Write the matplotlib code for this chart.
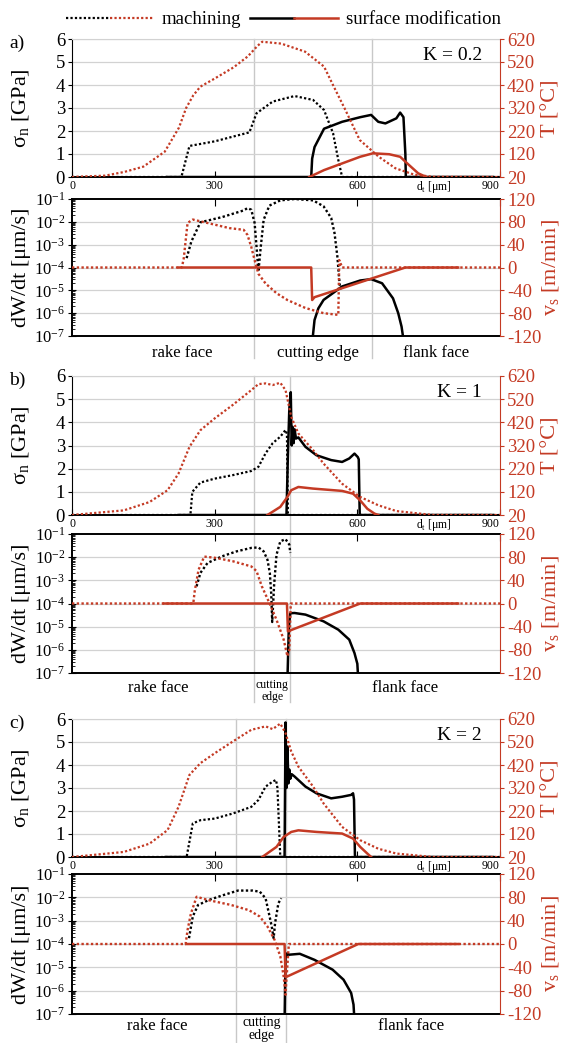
import matplotlib
matplotlib.use("Agg")
import matplotlib.pyplot as plt
import matplotlib.transforms as mtransforms
from matplotlib.lines import Line2D
from matplotlib.legend_handler import HandlerTuple
from matplotlib.ticker import FixedLocator, LogLocator, NullFormatter
import numpy as np

RED = '#c43a24'
GRID = '#d2d2d2'
BOUND = '#c8c8c8'

# ---------------- data (x in um) ----------------
# panel a, K = 0.2
A_X_SIG_MACH = [0, 230, 247, 300, 373, 388, 422, 468, 507, 530, 549, 560, 568, 900]
A_SIG_MACH = [0, 0, 1.35, 1.55, 1.94, 2.77, 3.28, 3.52, 3.35, 2.91, 1.9, 0.74, 0, 0]
A_X_T_MACH = [0, 70, 110, 150, 195, 225, 240, 255, 270, 300, 340, 370, 390, 400, 440,
              490, 530, 550, 575, 605, 645, 680, 720, 760, 900]
A_T_MACH = [20, 26, 42, 65, 130, 235, 320, 375, 413, 448, 497, 545, 590, 608, 600,
            565, 500, 415, 311, 181, 108, 58, 30, 21, 20]
A_X_SIG_SURF = [200, 503, 505, 510, 530, 568, 606, 629, 644, 659, 682, 690, 697, 701, 702, 885]
A_SIG_SURF = [0, 0, 0.8, 1.3, 2.1, 2.4, 2.6, 2.7, 2.4, 2.33, 2.55, 2.8, 2.6, 1.0, 0, 0]
A_X_T_SURF = [499, 530, 568, 606, 633, 667, 690, 705, 728, 745]
A_T_SURF = [20, 50, 79, 108, 123, 119, 108, 79, 36, 20]
A_X_W_MACH = [241, 251, 270, 316, 361, 369, 377, 384, 388, 392, 397, 403, 415, 438, 468,
              507, 529, 545, 552, 558, 562, 564]
A_LOGW_MACH = [-3.59, -2.86, -2.02, -1.79, -1.50, -1.40, -1.47, -2.05, -3.08, -4.18, -3.08,
               -1.91, -1.29, -1.06, -1.0, -1.06, -1.32, -1.83, -2.49, -3.52, -4.54, -4.98]
A_X_W_SURF = [505, 510, 518, 529, 568, 606, 629, 652, 675, 686, 693, 698]
A_LOGW_SURF = [-7.3, -6.3, -5.79, -5.42, -4.83, -4.57, -4.51, -4.69, -5.35, -6.0, -6.59, -7.3]
A_X_V_MACH = [0, 231, 235, 243, 254, 285, 331, 361, 369, 377, 384, 392, 407, 430, 453,
              491, 529, 560, 562, 568, 900]
A_V_MACH = [0, 0, 16, 78, 84, 78, 69, 66, 57, 36, 13, -11, -28, -45, -57,
            -71, -80, -83, 13, 0, 0]
A_X_V_SURF = [224, 503, 505, 510, 701, 812]
A_V_SURF = [0, 0, -57, -52, 0, 0]

# panel b, K = 1
B_X_SIG_MACH = [0, 249, 253, 270, 300, 338, 377, 392, 407, 422, 438, 449, 452, 454, 900]
B_SIG_MACH = [0, 0, 1.0, 1.4, 1.57, 1.72, 1.9, 2.08, 2.66, 3.1, 3.38, 3.67, 3.5, 0, 0]
B_X_T_MACH = [0, 109, 163, 201, 224, 247, 270, 300, 338, 377, 392, 407, 422, 438, 449,
              461, 476, 507, 529, 568, 606, 644, 682, 759, 900]
B_T_MACH = [20, 40, 76, 127, 199, 314, 386, 437, 495, 559, 585, 588, 581, 591, 559,
            444, 372, 300, 242, 155, 98, 62, 37, 20, 20]
B_X_SIG_SURF = [224, 451, 454, 457, 460, 462, 464, 466, 468, 471, 476, 491, 514, 545,
                568, 583, 594, 601, 603, 605, 885]
B_SIG_SURF = [0, 0, 2.6, 4.6, 5.3, 3.0, 3.8, 3.1, 3.7, 3.3, 3.35, 2.94, 2.58, 2.37,
              2.29, 2.44, 2.65, 2.5, 2.4, 0, 0]
B_X_T_SURF = [411, 438, 453, 461, 476, 507, 568, 591, 606, 621, 636, 644]
B_T_SURF = [20, 55, 98, 127, 141, 134, 124, 112, 83, 47, 26, 20]
B_X_W_MACH = [262, 270, 285, 316, 346, 377, 392, 403, 411, 416, 419, 421, 425, 430,
              438, 449, 457, 459]
B_LOGW_MACH = [-3.26, -2.68, -2.25, -1.96, -1.75, -1.6, -1.58, -1.75, -2.11, -2.68,
               -3.6, -4.8, -3.2, -1.9, -1.32, -1.22, -1.46, -1.82]
B_X_W_SURF = [453, 456, 459, 468, 491, 529, 560, 583, 594, 600, 602]
B_LOGW_SURF = [-7.3, -5.0, -4.42, -4.41, -4.48, -4.77, -5.13, -5.56, -6.14, -6.6, -7.3]
B_X_V_MACH = [0, 255, 258, 266, 278, 300, 338, 377, 388, 399, 415, 430, 445, 453, 457, 460, 900]
B_V_MACH = [0, 0, 21, 58, 81, 79, 73, 64, 56, 30, 1, -28, -62, -91, -80, 0, 0]
B_X_V_SURF = [193, 452, 454, 606, 812]
B_V_SURF = [0, 0, -48, 0, 0]

# panel c, K = 2
C_X_SIG_MACH = [0, 241, 254, 270, 300, 338, 377, 392, 407, 422, 429, 432, 438, 900]
C_SIG_MACH = [0, 0, 1.46, 1.6, 1.67, 1.89, 2.18, 2.48, 3.06, 3.28, 3.35, 3.0, 0, 0]
C_X_T_MACH = [0, 109, 163, 201, 224, 247, 270, 300, 338, 377, 407, 422, 438, 449,
              461, 476, 507, 529, 568, 606, 644, 682, 759, 900]
C_T_MACH = [20, 42, 78, 137, 238, 377, 428, 471, 522, 573, 588, 576, 600, 559,
            479, 413, 326, 253, 151, 93, 56, 35, 20, 20]
C_X_SIG_SURF = [197, 447, 449, 451, 453, 455, 457, 459, 462, 468, 491, 514, 545, 568,
                587, 591, 593, 595, 885]
C_SIG_SURF = [0, 0, 5.85, 3.0, 4.8, 3.2, 3.8, 3.4, 3.6, 3.5, 3.06, 2.77, 2.55, 2.62,
              2.7, 2.77, 2.5, 0, 0]
C_X_T_SURF = [400, 430, 445, 461, 476, 514, 568, 591, 606, 621, 629]
C_T_SURF = [20, 64, 107, 129, 136, 129, 122, 100, 64, 35, 20]
C_X_W_MACH = [246, 254, 265, 288, 319, 349, 380, 395, 407, 414, 420, 424, 427, 434, 440]
C_LOGW_MACH = [-3.75, -2.82, -2.33, -2.11, -1.9, -1.71, -1.71, -1.76, -2.04, -2.68,
               -3.25, -3.75, -3.11, -2.25, -2.04]
C_X_W_SURF = [447, 449, 453, 456, 479, 510, 548, 571, 587, 592, 594]
C_LOGW_SURF = [-7.3, -4.6, -4.39, -4.46, -4.42, -4.68, -5.1, -5.53, -6.1, -6.6, -7.3]
C_X_V_MACH = [0, 239, 243, 250, 262, 288, 334, 372, 395, 411, 426, 438, 445, 449, 451, 456, 900]
C_V_MACH = [0, 0, 24, 52, 81, 75, 67, 58, 47, 30, 7, -21, -55, -87, -60, 0, 0]
C_X_V_SURF = [240, 447, 449, 602, 812]
C_V_SURF = [0, 0, -57, 0, 0]

X_TICKS = [0, 300, 600, 900]
SIG_TICKS = [0, 1, 2, 3, 4, 5, 6]
T_TICKS = [20, 120, 220, 320, 420, 520, 620]
LOG_TICKS = [-7, -6, -5, -4, -3, -2, -1]
V_TICKS = [-120, -80, -40, 0, 40, 80, 120]

# ---------------- style ----------------
plt.rcParams['font.family'] = ['Liberation Serif', 'DejaVu Serif']
plt.rcParams['mathtext.fontset'] = 'custom'
plt.rcParams['mathtext.rm'] = 'Liberation Serif'
plt.rcParams['axes.unicode_minus'] = False

DOT = (0, (1, 1))
W_PX, H_PX = 565, 1043
L_PX, R_PX = 72, 500

fig = plt.figure(figsize=(W_PX / 100, H_PX / 100), dpi=100)


def rect(top, bottom):
    return [L_PX / W_PX, 1 - bottom / H_PX, (R_PX - L_PX) / W_PX, (bottom - top) / H_PX]


def panel(letter, ktext, tops, bots, line_end, bounds, regions, d):
    ax = fig.add_axes(rect(*tops))
    ax.patch.set_visible(False)
    ax.set_xlim(0, 900)
    ax.set_ylim(0, 6)
    ax.set_yticks(SIG_TICKS)
    ax.set_xticks(X_TICKS)
    ax.set_xticklabels([str(t) for t in X_TICKS])
    ax.get_xticklabels()[-1].set_ha('right')
    ax.tick_params(axis='x', direction='in', length=4, pad=2, labelsize=8.5)
    ax.tick_params(axis='y', length=3, labelsize=13.5, pad=2)
    for y in SIG_TICKS[1:]:
        ax.axhline(y, color=GRID, lw=0.9, zorder=0)
    ax.spines['top'].set_color(GRID)
    ax.spines['right'].set_visible(False)
    ax.spines['bottom'].set_linewidth(1.4)
    ax.set_ylabel('σ$_\\mathregular{n}$ [GPa]', fontsize=16, va='center')
    ax.yaxis.set_label_coords(-0.119, 0.5)
    ax.text(762, -0.072, 'd$_\\mathregular{t}$ [μm]', transform=mtransforms.blended_transform_factory(
        ax.transData, ax.transAxes), ha='center', va='center', fontsize=8.5)
    ax.text(0.958, 0.94, ktext, transform=ax.transAxes, ha='right', va='top', fontsize=14)
    ax.plot(d['xsm'], d['sm'], color='k', ls=DOT, lw=1.6, zorder=3)
    ax.plot(d['xss'], d['ss'], color='k', lw=1.8, zorder=4)

    ax2 = ax.twinx()
    ax2.set_ylim(20, 620)
    ax2.set_yticks(T_TICKS)
    ax2.tick_params(axis='y', colors=RED, labelsize=13.5, length=3, pad=2)
    for s in ('top', 'left', 'bottom'):
        ax2.spines[s].set_visible(False)
    ax2.spines['right'].set_color(RED)
    ax2.set_ylabel('T [°C]', color=RED, fontsize=16, va='center', rotation=90)
    ax2.yaxis.set_label_coords(1.12, 0.5)
    ax2.plot(d['xtm'], d['tm'], color=RED, ls=DOT, lw=1.6)
    ax2.plot(d['xts'], d['ts'], color=RED, lw=1.8)

    bx = fig.add_axes(rect(*bots))
    bx.patch.set_visible(False)
    bx.set_xlim(0, 900)
    bx.set_yscale('log')
    bx.set_ylim(1e-7, 1e-1)
    bx.yaxis.set_major_locator(FixedLocator([10.0 ** k for k in LOG_TICKS]))
    bx.set_yticklabels(['$\\mathregular{10^{%d}}$' % k for k in LOG_TICKS])
    bx.yaxis.set_minor_locator(LogLocator(base=10, subs=np.arange(2, 10), numticks=20))
    bx.yaxis.set_minor_formatter(NullFormatter())
    bx.tick_params(axis='y', which='major', direction='inout', length=6, labelsize=12, pad=2)
    bx.tick_params(axis='y', which='minor', direction='in', length=2.5)
    bx.set_xticks(X_TICKS)
    bx.tick_params(axis='x', top=True, bottom=False, direction='in', length=5,
                   labelbottom=False, labeltop=False)
    for k in LOG_TICKS[1:-1]:
        bx.axhline(10.0 ** k, color=GRID, lw=0.9, zorder=0)
    for s in ('top', 'bottom', 'left'):
        bx.spines[s].set_linewidth(1.4)
    bx.spines['right'].set_visible(False)
    bx.set_ylabel('dW/dt [μm/s]', fontsize=16, va='center')
    bx.yaxis.set_label_coords(-0.119, 0.5)
    bx.plot(d['xwm'], 10.0 ** np.array(d['wm']), color='k', ls=DOT, lw=1.7, zorder=3)
    bx.plot(d['xws'], 10.0 ** np.array(d['ws']), color='k', lw=1.8, zorder=4)

    bx2 = bx.twinx()
    bx2.set_ylim(-120, 120)
    bx2.set_yticks(V_TICKS)
    bx2.tick_params(axis='y', colors=RED, labelsize=13.5, length=3, pad=2)
    for s in ('top', 'left', 'bottom'):
        bx2.spines[s].set_visible(False)
    bx2.spines['right'].set_color(RED)
    bx2.set_ylabel('v$_\\mathregular{s}$ [m/min]', color=RED, fontsize=16, va='center', rotation=90)
    bx2.yaxis.set_label_coords(1.12, 0.5)
    bx2.plot(d['xvm'], d['vm'], color=RED, ls=DOT, lw=1.7)
    bx2.plot(d['xvs'], d['vs'], color=RED, lw=1.8)

    # region boundaries running through both plots
    tr = mtransforms.blended_transform_factory(ax.transData, fig.transFigure)
    for xb in bounds:
        fig.add_artist(Line2D([xb, xb], [1 - tops[0] / H_PX, 1 - line_end / H_PX],
                              transform=tr, color=BOUND, lw=1.0, zorder=-1))

    tb = mtransforms.blended_transform_factory(bx.transData, fig.transFigure)
    for xr, yr, txt, fs in regions:
        bx.text(xr, 1 - yr / H_PX, txt, transform=tb, ha='center', va='center',
                fontsize=fs, linespacing=0.95)

    fig.text(0.03, 1 - (tops[0] + 4) / H_PX, letter, ha='center', va='center', fontsize=14)


panel('a)', 'K = 0.2', (39, 177), (199, 336), 358, [382, 630],
      [(231, 353, 'rake face', 12), (518, 353, 'cutting edge', 12), (766, 353, 'flank face', 12)],
      dict(xsm=A_X_SIG_MACH, sm=A_SIG_MACH, xss=A_X_SIG_SURF, ss=A_SIG_SURF,
           xtm=A_X_T_MACH, tm=A_T_MACH, xts=A_X_T_SURF, ts=A_T_SURF,
           xwm=A_X_W_MACH, wm=A_LOGW_MACH, xws=A_X_W_SURF, ws=A_LOGW_SURF,
           xvm=A_X_V_MACH, vm=A_V_MACH, xvs=A_X_V_SURF, vs=A_V_SURF))

panel('b)', 'K = 1', (376, 515), (534, 673), 702, [382, 459],
      [(182, 688, 'rake face', 12), (421, 691, 'cutting\nedge', 8.5), (701, 688, 'flank face', 12)],
      dict(xsm=B_X_SIG_MACH, sm=B_SIG_MACH, xss=B_X_SIG_SURF, ss=B_SIG_SURF,
           xtm=B_X_T_MACH, tm=B_T_MACH, xts=B_X_T_SURF, ts=B_T_SURF,
           xwm=B_X_W_MACH, wm=B_LOGW_MACH, xws=B_X_W_SURF, ws=B_LOGW_SURF,
           xvm=B_X_V_MACH, vm=B_V_MACH, xvs=B_X_V_SURF, vs=B_V_SURF))

panel('c)', 'K = 2', (719, 857), (874, 1014), 1043, [345, 451],
      [(180, 1026, 'rake face', 12), (399, 1029, 'cutting\nedge', 10), (713, 1026, 'flank face', 12)],
      dict(xsm=C_X_SIG_MACH, sm=C_SIG_MACH, xss=C_X_SIG_SURF, ss=C_SIG_SURF,
           xtm=C_X_T_MACH, tm=C_T_MACH, xts=C_X_T_SURF, ts=C_T_SURF,
           xwm=C_X_W_MACH, wm=C_LOGW_MACH, xws=C_X_W_SURF, ws=C_LOGW_SURF,
           xvm=C_X_V_MACH, vm=C_V_MACH, xvs=C_X_V_SURF, vs=C_V_SURF))

# legend on top
h_km = Line2D([], [], color='k', ls=DOT, lw=1.6)
h_rm = Line2D([], [], color=RED, ls=DOT, lw=1.6)
h_ks = Line2D([], [], color='k', lw=1.8)
h_rs = Line2D([], [], color=RED, lw=1.8)
fig.legend([(h_km, h_rm), (h_ks, h_rs)], ['machining', 'surface modification'],
           handler_map={tuple: HandlerTuple(ndivide=None, pad=0)},
           loc='center', bbox_to_anchor=(0.501, 0.981), ncol=2, frameon=False,
           handlelength=4.7, handletextpad=0.4, columnspacing=0.5, fontsize=13.5,
           borderpad=0, borderaxespad=0)

fig.savefig('out.png', dpi=100)
